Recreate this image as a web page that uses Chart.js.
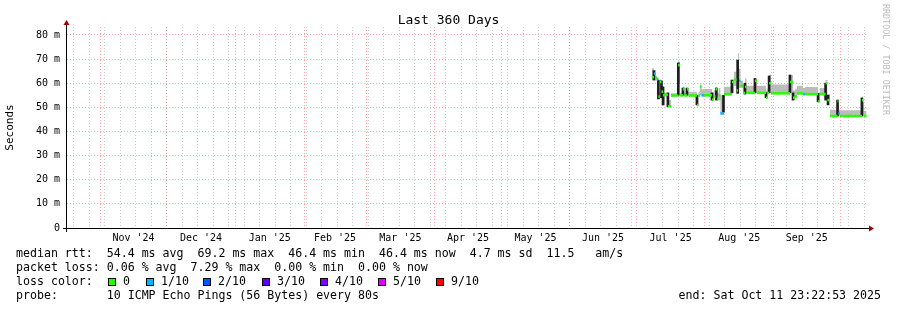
<!DOCTYPE html>
<html>
<head>
<meta charset="utf-8">
<script src="https://cdn.jsdelivr.net/npm/chart.js@4.4.1/dist/chart.umd.min.js"></script>
<style>
  html, body { margin: 0; padding: 0; background: #fff; }
  #wrap { position: relative; width: 897px; height: 310px; overflow: hidden; }
  #graph { position: absolute; left: 0; top: 0; }
  .txt { position: absolute; font-family: "DejaVu Sans Mono", monospace; white-space: pre; color: #000; line-height: 1; }
  .leg { font-size: 11.6px; }
  .box { position: absolute; width: 8px; height: 8px; box-sizing: border-box; border: 1px solid #000; top: 278px; }
  #wm { position: absolute; left: 882px; top: 4px; font-family: "DejaVu Sans Mono", monospace; font-size: 8.4px; color: #bdbdbd; writing-mode: vertical-rl; white-space: pre; line-height: 1; }
</style>
</head>
<body>
<div id="wrap">
  <canvas id="graph" width="897" height="310"></canvas>
  <div class="txt" style="left:0;width:897px;text-align:center;top:12.5px;font-size:13px;">Last 360 Days</div>
  <div id="wm">RRDTOOL / TOBI OETIKER</div>
  <div class="txt leg" style="left:16px;top:248px;">median rtt:  54.4 ms avg  69.2 ms max  46.4 ms min  46.4 ms now  4.7 ms sd  11.5   am/s</div>
  <div class="txt leg" style="left:16px;top:262px;">packet loss: 0.06 % avg  7.29 % max  0.00 % min  0.00 % now</div>
  <div class="txt leg" style="left:16px;top:276px;">loss color:</div>
  <div id="lossLegend"></div>
  <div class="txt leg" style="left:16px;top:290px;">probe:       10 ICMP Echo Pings (56 Bytes) every 80s</div>
  <div class="txt leg" style="right:16px;top:290px;">end: Sat Oct 11 23:22:53 2025</div>
</div>
<script>
// time axis is in days since the graph start (Wed Oct 16 2024 23:22)
const sampleDay = [264.1, 265.0, 265.7, 266.4, 267.0, 267.7, 268.4, 269.1, 270.0, 271.3,
  272.7, 275.9, 276.8, 278.1, 278.8, 279.9, 280.6, 284.4, 285.1, 285.8,
  286.5, 287.6, 291.2, 292.1, 292.8, 293.5, 294.3, 295.0, 296.6, 300.2,
  301.1, 302.3, 303.0, 303.4, 304.1, 305.2, 306.1, 306.8, 310.6, 311.5,
  315.6, 316.3, 317.0, 317.9, 326.4, 327.8, 328.7, 329.6, 332.3, 333.2,
  339.1, 339.8, 342.5, 343.3, 344.5, 347.9, 348.3, 349.0, 358.9, 359.4,
  359.8, 361.0];
const medianMs = [62.5, 64.0, 62.0, 61.5, 54.5, 60.5, 56.5, 55.0, 55.2, 50.5,
  54.9, 67.5, 55.0, 57.5, 54.9, 57.5, 54.9, 51.0, 54.9, 58.5,
  55.0, 55.0, 53.2, 54.5, 57.5, 53.5, 55.0, 47.5, 55.5, 60.5,
  61.5, 57.0, 68.5, 61.0, 59.0, 56.0, 58.5, 56.0, 61.0, 56.0,
  54.0, 56.0, 60.0, 55.8, 60.5, 54.0, 54.5, 55.8, 55.5, 55.5,
  52.4, 55.5, 60.0, 53.0, 46.4, 52.5, 47.5, 46.4, 53.0, 50.0,
  46.4, 46.4];
const lossCount = [0, 1, 0, 1, 0, 0, 0, 0, 0, 0,
  0, 0, 0, 0, 0, 0, 0, 0, 0, 0,
  1, 0, 0, 0, 0, 0, 0, 1, 0, 0,
  0, 0, 0, 1, 0, 0, 0, 0, 0, 0,
  0, 0, 0, 0, 0, 0, 0, 0, 1, 0,
  0, 0, 0, 0, 0, 0, 1, 0, 0, 1,
  0, 0];
const smokeLow = [61.5, 61.5, 61.0, 60.5, 53.5, 57.5, 55.0, 51.0, 54.5, 50.0,
  54.5, 60.0, 54.5, 55.0, 54.5, 55.0, 54.5, 50.5, 54.5, 55.0,
  54.5, 54.5, 52.5, 54.0, 54.0, 53.0, 53.0, 47.0, 55.0, 56.0,
  59.0, 56.0, 57.0, 58.0, 58.0, 55.5, 55.5, 55.5, 56.0, 55.5,
  53.5, 55.5, 56.0, 55.5, 56.0, 53.0, 54.0, 55.3, 55.0, 55.0,
  52.0, 55.0, 53.0, 52.5, 46.2, 46.5, 46.5, 46.2, 46.5, 46.5,
  46.2, 46.2];
const smokeHigh = [66.2, 65.5, 63.0, 62.5, 57.0, 61.5, 58.0, 56.0, 56.0, 53.0,
  55.8, 69.0, 56.0, 58.5, 56.0, 58.0, 56.5, 55.0, 56.5, 59.5,
  57.5, 57.6, 56.0, 57.0, 58.5, 56.0, 58.0, 55.0, 58.5, 61.5,
  64.8, 60.0, 72.4, 66.0, 61.0, 59.5, 62.0, 59.0, 62.0, 59.0,
  57.0, 58.0, 63.5, 59.5, 63.4, 57.0, 57.5, 59.0, 58.0, 58.4,
  56.0, 58.0, 61.3, 55.5, 49.0, 53.5, 49.0, 48.8, 54.5, 52.0,
  48.5, 48.5];
// dark smoke spikes
const spikeDay = [265.0, 267.0, 268.4, 269.1, 271.3, 276.0, 278.1, 279.9, 284.4, 291.2,
  293.2, 296.4, 300.2, 302.8, 306.1, 310.6, 315.6, 317.0, 326.4, 327.8,
  339.1, 342.5, 343.6, 347.9, 358.9];
const spikeLow = [61.3, 53.5, 54.0, 51.0, 50.3, 55.0, 55.0, 55.0, 51.0, 53.0,
  53.0, 48.0, 56.0, 55.8, 55.5, 56.0, 54.0, 56.0, 56.0, 53.0,
  52.4, 53.0, 51.0, 46.4, 46.4];
const spikeHigh = [65.2, 61.3, 61.0, 58.5, 56.0, 68.4, 58.0, 58.0, 55.0, 56.0,
  58.0, 55.0, 61.3, 69.6, 60.0, 62.0, 56.0, 63.0, 63.4, 56.0,
  55.8, 60.0, 55.0, 53.0, 53.9];

const monthStartDay = [15.03, 45.03, 76.03, 107.03, 135.03, 166.03, 196.03, 227.03, 257.03, 288.03, 319.03, 349.03];
const monthLabels = ["Nov '24", "Dec '24", "Jan '25", "Feb '25", "Mar '25", "Apr '25", "May '25", "Jun '25", "Jul '25", "Aug '25", "Sep '25"];
const firstSunday = 3.03;
const yTicks = [0, 5, 10, 15, 20, 25, 30, 35, 40, 45, 50, 55, 60, 65, 70, 75, 80];

const lossNames = ['0', '1/10', '2/10', '3/10', '4/10', '5/10', '9/10'];
const lossColors = ['#26ff00', '#00b8ff', '#0059ff', '#5e00ff', '#7e00ff', '#dd00ff', '#ff0000'];

// loss color legend row
const legBoxX = [108, 146, 203, 262, 320, 378, 436];
const legEl = document.getElementById('lossLegend');
lossNames.forEach((n, i) => {
  const b = document.createElement('div');
  b.className = 'box';
  b.style.left = legBoxX[i] + 'px';
  b.style.background = lossColors[i];
  legEl.appendChild(b);
  const t = document.createElement('div');
  t.className = 'txt leg';
  t.style.left = (legBoxX[i] + 15) + 'px';
  t.style.top = '276px';
  t.textContent = n;
  legEl.appendChild(t);
});

const RED_GRID = 'rgba(255,90,90,0.55)';
const GRAY_GRID = 'rgba(150,150,150,0.5)';

const xTicks = [];
monthStartDay.forEach(d => xTicks.push({ value: d, kind: 'month' }));
for (let d = firstSunday; d < 361; d += 7) xTicks.push({ value: d, kind: 'week' });
monthLabels.forEach((l, i) => xTicks.push({ value: (monthStartDay[i] + monthStartDay[i + 1]) / 2, kind: 'label', lab: l }));
xTicks.sort((a, b) => a.value - b.value);

const pts = (xs, ys) => xs.map((x, i) => ({ x: x, y: ys[i] }));
// median drawn as flat pieces only: each sample holds until the next one
const medianPts = [];
sampleDay.forEach((d, i) => {
  if (i === sampleDay.length - 1) return;
  medianPts.push({ x: d, y: medianMs[i], s: i });
  medianPts.push({ x: sampleDay[i + 1], y: medianMs[i], s: i });
  medianPts.push({ x: sampleDay[i + 1], y: null, s: i });
});

const axesPlugin = {
  id: 'rrdAxes',
  afterDraw(chart) {
    const ctx = chart.ctx;
    const a = chart.chartArea;
    ctx.save();
    ctx.strokeStyle = '#000';
    ctx.lineWidth = 1;
    ctx.beginPath();
    ctx.moveTo(a.left - 4, a.bottom + 0.5);
    ctx.lineTo(a.right + 3, a.bottom + 0.5);
    ctx.moveTo(a.left - 0.5, a.bottom + 4);
    ctx.lineTo(a.left - 0.5, a.top - 3);
    ctx.stroke();
    ctx.fillStyle = '#a00000';
    ctx.beginPath();
    ctx.moveTo(a.right + 2, a.bottom - 2.5);
    ctx.lineTo(a.right + 7, a.bottom + 0.5);
    ctx.lineTo(a.right + 2, a.bottom + 3.5);
    ctx.closePath();
    ctx.fill();
    ctx.beginPath();
    ctx.moveTo(a.left - 3.5, a.top - 2);
    ctx.lineTo(a.left - 0.5, a.top - 7);
    ctx.lineTo(a.left + 2.5, a.top - 2);
    ctx.closePath();
    ctx.fill();
    ctx.restore();
  }
};

Chart.defaults.font.family = "'DejaVu Sans Mono', monospace";
Chart.defaults.color = '#000';

new Chart(document.getElementById('graph'), {
  data: {
    datasets: [
      { type: 'line', data: pts(sampleDay, smokeLow), stepped: true, borderWidth: 0, pointRadius: 0, fill: false, order: 4 },
      { type: 'line', data: pts(sampleDay, smokeHigh), stepped: true, borderWidth: 0, pointRadius: 0, fill: '-1', backgroundColor: '#bcbcbc', order: 3 },
      { type: 'bar', data: spikeDay.map((d, i) => ({ x: d, y: [spikeLow[i], spikeHigh[i]] })), backgroundColor: '#1e1e1e', barThickness: 2, order: 2 },
      { type: 'line', data: medianPts, spanGaps: false, borderWidth: 2.5, pointRadius: 0, fill: false, borderCapStyle: 'butt',
        borderColor: lossColors[0],
        segment: { borderColor: c => lossColors[lossCount[medianPts[c.p0DataIndex].s]] },
        order: 1 }
    ]
  },
  options: {
    responsive: false,
    animation: false,
    events: [],
    layout: { padding: { top: 27, right: 30, left: 0, bottom: 0 } },
    plugins: { legend: { display: false }, tooltip: { enabled: false }, title: { display: false } },
    scales: {
      x: {
        type: 'linear', min: 0, max: 361.2, offset: false,
        afterFit: s => { s.height = 82; },
        afterBuildTicks: s => { s.ticks = xTicks.map(t => Object.assign({}, t)); },
        grid: {
          offset: false,
          drawTicks: false,
          color: c => c.tick ? (c.tick.kind === 'month' ? RED_GRID : c.tick.kind === 'week' ? GRAY_GRID : 'rgba(0,0,0,0)') : GRAY_GRID,
          borderDash: [1, 2]
        },
        border: { display: false, dash: [1, 2] },
        ticks: {
          autoSkip: false, maxRotation: 0, minRotation: 0, padding: 4,
          font: { size: 10 },
          callback: (v, i, t) => t[i].lab || ''
        }
      },
      y: {
        min: 0, max: 83.3,
        afterFit: s => { s.width = 67; },
        afterBuildTicks: s => { s.ticks = yTicks.map(v => ({ value: v })); },
        grid: {
          drawTicks: false,
          color: c => c.tick && c.tick.value % 10 === 0 ? RED_GRID : GRAY_GRID,
          borderDash: [1, 2]
        },
        border: { display: false, dash: [1, 2] },
        ticks: {
          padding: 7,
          font: { size: 10 },
          callback: v => v % 10 !== 0 ? '' : (v === 0 ? '0' : v + ' m')
        },
        title: { display: true, text: 'Seconds', font: { size: 11 }, padding: { top: 4, bottom: 4 } }
      }
    }
  },
  plugins: [axesPlugin]
});
</script>
</body>
</html>
